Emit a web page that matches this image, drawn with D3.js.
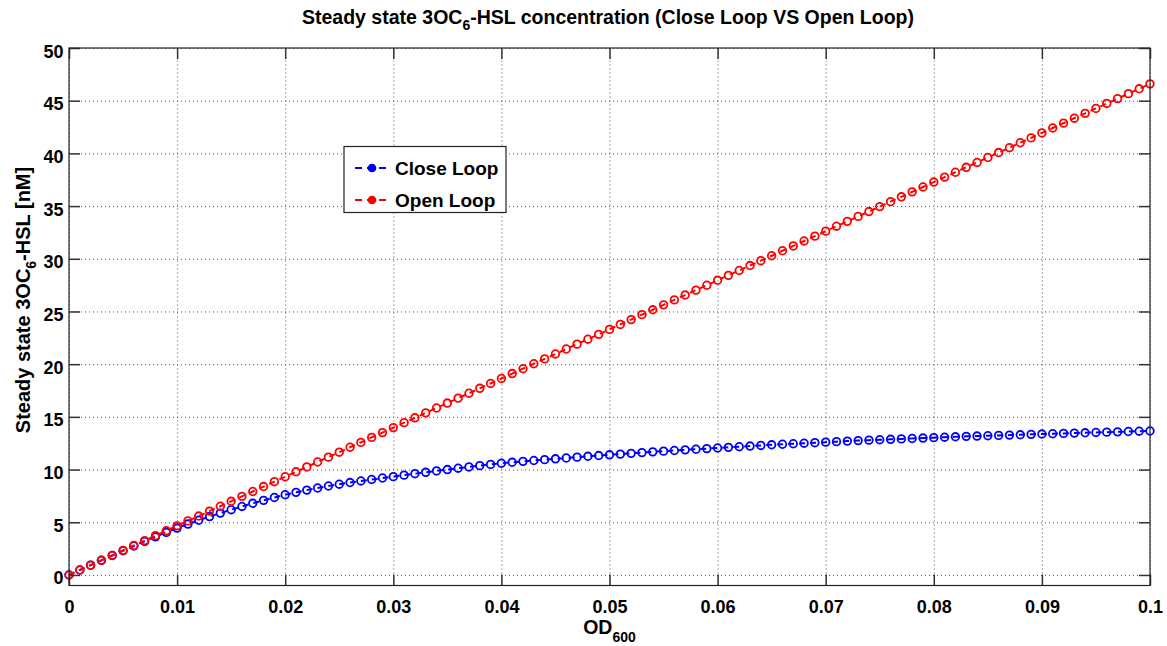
<!DOCTYPE html>
<html>
<head>
<meta charset="utf-8">
<script src="https://cdn.jsdelivr.net/npm/d3@7"></script>
<style>
  body { margin: 0; background: #fff; }
  text { font-family: "Liberation Sans", Arial, Helvetica, sans-serif; font-weight: bold; fill: #000; }
</style>
</head>
<body>
<svg id="chart" width="1167" height="646"></svg>
<script>
// OD600 sample points
const od = [
  0, 0.001, 0.002, 0.003, 0.004, 0.005, 0.006, 0.007, 0.008, 0.009,
  0.010, 0.011, 0.012, 0.013, 0.014, 0.015, 0.016, 0.017, 0.018, 0.019,
  0.020, 0.021, 0.022, 0.023, 0.024, 0.025, 0.026, 0.027, 0.028, 0.029,
  0.030, 0.031, 0.032, 0.033, 0.034, 0.035, 0.036, 0.037, 0.038, 0.039,
  0.040, 0.041, 0.042, 0.043, 0.044, 0.045, 0.046, 0.047, 0.048, 0.049,
  0.050, 0.051, 0.052, 0.053, 0.054, 0.055, 0.056, 0.057, 0.058, 0.059,
  0.060, 0.061, 0.062, 0.063, 0.064, 0.065, 0.066, 0.067, 0.068, 0.069,
  0.070, 0.071, 0.072, 0.073, 0.074, 0.075, 0.076, 0.077, 0.078, 0.079,
  0.080, 0.081, 0.082, 0.083, 0.084, 0.085, 0.086, 0.087, 0.088, 0.089,
  0.090, 0.091, 0.092, 0.093, 0.094, 0.095, 0.096, 0.097, 0.098, 0.099,
  0.100
];

// Steady state 3OC6-HSL [nM], closed loop
const closeLoop = [
  0, 0.47, 0.93, 1.39, 1.85, 2.30, 2.75, 3.19, 3.62, 4.04,
  4.45, 4.83, 5.19, 5.54, 5.87, 6.19, 6.50, 6.80, 7.08, 7.35,
  7.61, 7.84, 8.05, 8.25, 8.44, 8.61, 8.77, 8.92, 9.06, 9.20,
  9.33, 9.47, 9.61, 9.74, 9.87, 10.00, 10.13, 10.25, 10.37, 10.49,
  10.60, 10.69, 10.78, 10.86, 10.94, 11.02, 11.10, 11.18, 11.26, 11.33,
  11.40, 11.47, 11.54, 11.61, 11.68, 11.75, 11.81, 11.87, 11.93, 11.99,
  12.05, 12.11, 12.17, 12.23, 12.29, 12.35, 12.40, 12.45, 12.50, 12.55,
  12.60, 12.65, 12.70, 12.75, 12.79, 12.83, 12.87, 12.91, 12.95, 12.99,
  13.03, 13.07, 13.11, 13.15, 13.18, 13.21, 13.24, 13.27, 13.30, 13.34,
  13.37, 13.40, 13.43, 13.46, 13.49, 13.52, 13.55, 13.58, 13.61, 13.64,
  13.66
];

// Steady state 3OC6-HSL [nM], open loop
const openLoop = [
  0, 0.47, 0.93, 1.40, 1.86, 2.33, 2.80, 3.26, 3.73, 4.19,
  4.66, 5.13, 5.59, 6.06, 6.52, 6.99, 7.46, 7.92, 8.39, 8.85,
  9.32, 9.79, 10.25, 10.72, 11.18, 11.65, 12.12, 12.58, 13.05, 13.51,
  13.98, 14.45, 14.91, 15.38, 15.84, 16.31, 16.78, 17.24, 17.71, 18.17,
  18.64, 19.11, 19.57, 20.04, 20.50, 20.97, 21.44, 21.90, 22.37, 22.83,
  23.30, 23.77, 24.23, 24.70, 25.16, 25.63, 26.10, 26.56, 27.03, 27.49,
  27.96, 28.43, 28.89, 29.36, 29.82, 30.29, 30.76, 31.22, 31.69, 32.15,
  32.62, 33.09, 33.55, 34.02, 34.48, 34.95, 35.42, 35.88, 36.35, 36.81,
  37.28, 37.75, 38.21, 38.68, 39.14, 39.61, 40.08, 40.54, 41.01, 41.47,
  41.94, 42.41, 42.87, 43.34, 43.80, 44.27, 44.74, 45.20, 45.67, 46.13,
  46.60
];

const xTicks = [0, 0.01, 0.02, 0.03, 0.04, 0.05, 0.06, 0.07, 0.08, 0.09, 0.1];
const xTickLabels = ["0", "0.01", "0.02", "0.03", "0.04", "0.05", "0.06", "0.07", "0.08", "0.09", "0.1"];
const yTicks = [0, 5, 10, 15, 20, 25, 30, 35, 40, 45, 50];
const yTickLabels = ["0", "5", "10", "15", "20", "25", "30", "35", "40", "45", "50"];
const seriesNames = ["Close Loop", "Open Loop"];
const seriesColors = ["#0000ff", "#ff0000"];

const svg = d3.select("#chart");
const plotLeft = 69, plotRight = 1150, plotTop = 48, plotBottom = 585.5;
const plotW = plotRight - plotLeft, plotH = plotBottom - plotTop;

const x = d3.scaleLinear().domain([0, 0.1]).range([plotLeft, plotRight]);
const y = d3.scaleLinear().domain([-1, 50]).range([plotBottom, plotTop]);

// dotted grid
const grid = svg.append("g").attr("class", "grid");
grid.append("g")
  .attr("transform", `translate(0,${plotBottom})`)
  .call(d3.axisBottom(x).tickValues(xTicks).tickSize(-plotH).tickFormat(""))
  .call(g => g.select(".domain").remove());
grid.append("g")
  .attr("transform", `translate(${plotLeft},0)`)
  .call(d3.axisLeft(y).tickValues(yTicks).tickSize(-plotW).tickFormat(""))
  .call(g => g.select(".domain").remove());
grid.selectAll("line")
  .attr("stroke", "#555")
  .attr("stroke-width", 1)
  .attr("stroke-dasharray", "1,3");

// series: dashed line with circle markers
const series = [closeLoop, openLoop];
const line = d3.line()
  .x((d, i) => x(od[i]))
  .y(d => y(d));

series.forEach((vals, s) => {
  const g = svg.append("g");
  g.append("path")
    .datum(vals)
    .attr("fill", "none")
    .attr("stroke", seriesColors[s])
    .attr("stroke-width", 2)
    .attr("stroke-dasharray", "6,5")
    .attr("d", line);
  g.selectAll("circle")
    .data(vals)
    .join("circle")
    .attr("cx", (d, i) => x(od[i]))
    .attr("cy", d => y(d))
    .attr("r", 3.8)
    .attr("fill", "none")
    .attr("stroke", seriesColors[s])
    .attr("stroke-width", 1.8);
});

// axes with inward ticks on all four sides
const tickLen = 11;
const axBottom = svg.append("g")
  .attr("transform", `translate(0,${plotBottom})`)
  .call(d3.axisBottom(x).tickValues(xTicks).tickSizeInner(-tickLen).tickSizeOuter(0).tickPadding(14.5)
    .tickFormat((d, i) => xTickLabels[i]));
const axTop = svg.append("g")
  .attr("transform", `translate(0,${plotTop})`)
  .call(d3.axisTop(x).tickValues(xTicks).tickSizeInner(-tickLen).tickSizeOuter(0).tickFormat(""));
const axLeft = svg.append("g")
  .attr("transform", `translate(${plotLeft},0)`)
  .call(d3.axisLeft(y).tickValues(yTicks).tickSizeInner(-tickLen).tickSizeOuter(0).tickPadding(5.5)
    .tickFormat((d, i) => yTickLabels[i]));
const axRight = svg.append("g")
  .attr("transform", `translate(${plotRight},0)`)
  .call(d3.axisRight(y).tickValues(yTicks).tickSizeInner(-tickLen).tickSizeOuter(0).tickFormat(""));

[axBottom, axTop, axLeft, axRight].forEach(a => {
  a.select(".domain").remove();
  a.selectAll(".tick line").attr("stroke", "#333").attr("stroke-width", 1.5);
  a.selectAll("text").attr("font-size", 18).attr("font-family", null).attr("fill", "#000");
});
axLeft.selectAll("text").attr("dy", 9);

// axes box
svg.append("rect")
  .attr("x", plotLeft).attr("y", plotTop)
  .attr("width", plotW).attr("height", plotH)
  .attr("fill", "none")
  .attr("stroke", "#222")
  .attr("stroke-width", 1.2);

// title
const title = svg.append("text")
  .attr("x", 608)
  .attr("y", 24)
  .attr("text-anchor", "middle")
  .attr("font-size", 19.5);
title.append("tspan").text("Steady state 3OC");
title.append("tspan").attr("font-size", 14).attr("dy", 6).text("6");
title.append("tspan").attr("dy", -6).text("-HSL concentration (Close Loop VS Open Loop)");

// x label
const xl = svg.append("text")
  .attr("x", (plotLeft + plotRight) / 2)
  .attr("y", 634)
  .attr("text-anchor", "middle")
  .attr("font-size", 19.5);
xl.append("tspan").text("OD");
xl.append("tspan").attr("font-size", 14).attr("dy", 8).text("600");

// y label
const yl = svg.append("text")
  .attr("transform", "translate(30,300) rotate(-90)")
  .attr("text-anchor", "middle")
  .attr("font-size", 20);
yl.append("tspan").text("Steady state 3OC");
yl.append("tspan").attr("font-size", 14).attr("dy", 6).text("6");
yl.append("tspan").attr("dy", -6).text("-HSL [nM]");

// legend
const lg = svg.append("g");
lg.append("rect")
  .attr("x", 344).attr("y", 146.5)
  .attr("width", 162).attr("height", 66)
  .attr("fill", "#fff")
  .attr("stroke", "#222")
  .attr("stroke-width", 1.2);
seriesNames.forEach((name, i) => {
  const cy = 168 + i * 32;
  lg.append("line")
    .attr("x1", 355).attr("x2", 391)
    .attr("y1", cy).attr("y2", cy)
    .attr("stroke", seriesColors[i])
    .attr("stroke-width", 2)
    .attr("stroke-dasharray", "7,5");
  lg.append("circle")
    .attr("cx", 372).attr("cy", cy).attr("r", 3.5)
    .attr("fill", seriesColors[i])
    .attr("stroke", seriesColors[i])
    .attr("stroke-width", 1.6);
  lg.append("text")
    .attr("x", 395).attr("y", cy + 7)
    .attr("font-size", 19)
    .text(name);
});
</script>
</body>
</html>
